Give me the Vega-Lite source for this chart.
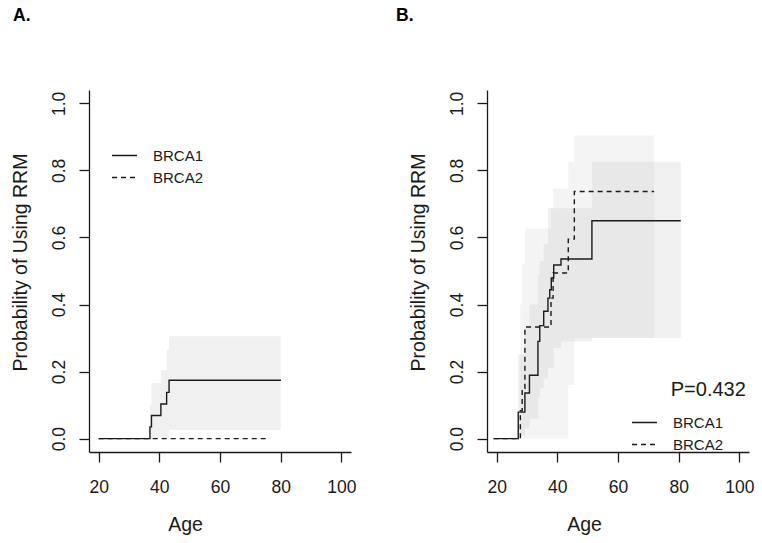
{
  "$schema": "https://vega.github.io/schema/vega-lite/v6.json",
  "autosize": {"type": "pad"},
  "padding": {"left": 10, "top": 7, "right": 5, "bottom": 5},
  "background": "white",
  "bounds": "flush",
  "spacing": 136,
  "resolve": {"scale": {"strokeDash": "independent"}, "legend": {"strokeDash": "independent"}},
  "config": {
    "font": "Liberation Sans",
    "view": {"stroke": null},
    "axis": {
      "grid": false,
      "domainColor": "#1a1a1a",
      "tickColor": "#1a1a1a",
      "labelColor": "#1a1a1a",
      "titleColor": "#1a1a1a",
      "domainWidth": 1.3,
      "tickWidth": 1.3,
      "tickSize": 10,
      "labelFont": "Liberation Sans",
      "titleFont": "Liberation Sans",
      "labelFontSize": 17.5,
      "titleFontSize": 19.5,
      "titleFontWeight": "normal",
      "labelFlush": false,
      "labelOverlap": false
    },
    "legend": {
      "labelFont": "Liberation Sans",
      "labelFontSize": 15,
      "labelColor": "#1a1a1a",
      "padding": 0
    }
  },
  "datasets": {
    "lines": [
      {"panel": "A", "series": "BRCA1", "age": 20, "prob": 0},
      {"panel": "A", "series": "BRCA1", "age": 36.9, "prob": 0.035},
      {"panel": "A", "series": "BRCA1", "age": 37.4, "prob": 0.069},
      {"panel": "A", "series": "BRCA1", "age": 40.5, "prob": 0.103},
      {"panel": "A", "series": "BRCA1", "age": 42.4, "prob": 0.138},
      {"panel": "A", "series": "BRCA1", "age": 43.2, "prob": 0.174},
      {"panel": "A", "series": "BRCA1", "age": 80.1, "prob": 0.174},
      {"panel": "A", "series": "BRCA2", "age": 20, "prob": 0},
      {"panel": "A", "series": "BRCA2", "age": 75.4, "prob": 0},
      {"panel": "B", "series": "BRCA1", "age": 19, "prob": 0},
      {"panel": "B", "series": "BRCA1", "age": 27.1, "prob": 0.079},
      {"panel": "B", "series": "BRCA1", "age": 29.3, "prob": 0.136},
      {"panel": "B", "series": "BRCA1", "age": 30.8, "prob": 0.189},
      {"panel": "B", "series": "BRCA1", "age": 33.6, "prob": 0.29},
      {"panel": "B", "series": "BRCA1", "age": 34.2, "prob": 0.337},
      {"panel": "B", "series": "BRCA1", "age": 35.5, "prob": 0.38},
      {"panel": "B", "series": "BRCA1", "age": 36.9, "prob": 0.419},
      {"panel": "B", "series": "BRCA1", "age": 37.5, "prob": 0.444},
      {"panel": "B", "series": "BRCA1", "age": 38.0, "prob": 0.479},
      {"panel": "B", "series": "BRCA1", "age": 38.8, "prob": 0.518},
      {"panel": "B", "series": "BRCA1", "age": 41.2, "prob": 0.536},
      {"panel": "B", "series": "BRCA1", "age": 51.4, "prob": 0.65},
      {"panel": "B", "series": "BRCA1", "age": 80.7, "prob": 0.65},
      {"panel": "B", "series": "BRCA2", "age": 19, "prob": 0},
      {"panel": "B", "series": "BRCA2", "age": 27.8, "prob": 0.083},
      {"panel": "B", "series": "BRCA2", "age": 28.4, "prob": 0.15},
      {"panel": "B", "series": "BRCA2", "age": 29.3, "prob": 0.333},
      {"panel": "B", "series": "BRCA2", "age": 37.9, "prob": 0.419},
      {"panel": "B", "series": "BRCA2", "age": 38.6, "prob": 0.494},
      {"panel": "B", "series": "BRCA2", "age": 43.6, "prob": 0.595},
      {"panel": "B", "series": "BRCA2", "age": 45.6, "prob": 0.737},
      {"panel": "B", "series": "BRCA2", "age": 71.9, "prob": 0.737}
    ],
    "bands": [
      {"panel": "A", "series": "BRCA1", "age": 36.9, "prob": 0, "prob2": 0.1},
      {"panel": "A", "series": "BRCA1", "age": 37.4, "prob": 0, "prob2": 0.166},
      {"panel": "A", "series": "BRCA1", "age": 40.5, "prob": 0, "prob2": 0.205},
      {"panel": "A", "series": "BRCA1", "age": 42.4, "prob": 0, "prob2": 0.265},
      {"panel": "A", "series": "BRCA1", "age": 43.2, "prob": 0.026, "prob2": 0.305},
      {"panel": "A", "series": "BRCA1", "age": 80.0, "prob": 0.026, "prob2": 0.305},
      {"panel": "B", "series": "BRCA1", "age": 27.1, "prob": 0.01, "prob2": 0.25},
      {"panel": "B", "series": "BRCA1", "age": 29.3, "prob": 0.03, "prob2": 0.33},
      {"panel": "B", "series": "BRCA1", "age": 30.8, "prob": 0.06, "prob2": 0.4},
      {"panel": "B", "series": "BRCA1", "age": 33.6, "prob": 0.12, "prob2": 0.49},
      {"panel": "B", "series": "BRCA1", "age": 34.2, "prob": 0.15, "prob2": 0.53},
      {"panel": "B", "series": "BRCA1", "age": 35.5, "prob": 0.18, "prob2": 0.58},
      {"panel": "B", "series": "BRCA1", "age": 36.9, "prob": 0.21, "prob2": 0.687},
      {"panel": "B", "series": "BRCA1", "age": 38.8, "prob": 0.27, "prob2": 0.687},
      {"panel": "B", "series": "BRCA1", "age": 41.2, "prob": 0.29, "prob2": 0.687},
      {"panel": "B", "series": "BRCA1", "age": 51.4, "prob": 0.3, "prob2": 0.826},
      {"panel": "B", "series": "BRCA1", "age": 80.7, "prob": 0.3, "prob2": 0.826},
      {"panel": "B", "series": "BRCA2", "age": 27.8, "prob": 0, "prob2": 0.4},
      {"panel": "B", "series": "BRCA2", "age": 28.4, "prob": 0, "prob2": 0.52},
      {"panel": "B", "series": "BRCA2", "age": 29.3, "prob": 0, "prob2": 0.627},
      {"panel": "B", "series": "BRCA2", "age": 37.9, "prob": 0, "prob2": 0.687},
      {"panel": "B", "series": "BRCA2", "age": 38.6, "prob": 0, "prob2": 0.746},
      {"panel": "B", "series": "BRCA2", "age": 43.6, "prob": 0.16, "prob2": 0.826},
      {"panel": "B", "series": "BRCA2", "age": 45.6, "prob": 0.3, "prob2": 0.904},
      {"panel": "B", "series": "BRCA2", "age": 71.9, "prob": 0.3, "prob2": 0.904}
    ],
    "notes": [
      {"panel": "B", "age": 77.4, "prob": 0.126, "label": "P=0.432"}
    ]
  },
  "hconcat": [
    {
      "width": 262,
      "height": 362,
      "title": {"text": "A.", "anchor": "start", "frame": "group", "dx": -76, "offset": 51.5, "baseline": "alphabetic", "fontSize": 17.5, "fontWeight": "bold", "color": "#000000", "font": "Liberation Sans"},
      "encoding": {
        "x": {"field": "age", "type": "quantitative", "scale": {"domain": [16.8, 103.2], "nice": false, "zero": false},
              "axis": {"title": "Age", "values": [20, 40, 60, 80, 100], "format": "d", "labelPadding": 30, "labelBaseline": "alphabetic", "titleX": 96, "titleY": 78, "titleBaseline": "alphabetic", "titleAlign": "center"}},
        "y": {"field": "prob", "type": "quantitative", "scale": {"domain": [-0.04, 1.04], "nice": false, "zero": false},
              "axis": {"title": "Probability of Using RRM", "values": [0, 0.2, 0.4, 0.6, 0.8, 1], "format": ".1f", "labelAngle": 270, "labelAlign": "center", "labelBaseline": "alphabetic", "labelPadding": 15, "titleX": -63, "titleY": 172, "titleAngle": 270, "titleBaseline": "alphabetic", "titleAlign": "center"}}
      },
      "layer": [
        {
          "data": {"name": "bands"},
          "transform": [{"filter": "datum.panel == 'A'"}],
          "mark": {"type": "area", "interpolate": "step-after", "fill": "#F0F0F0", "stroke": null},
          "encoding": {"y2": {"field": "prob2"}}
        },
        {
          "data": {"name": "lines"},
          "transform": [{"filter": "datum.panel == 'A'"}],
          "mark": {"type": "line", "interpolate": "step-after", "stroke": "#1a1a1a", "strokeWidth": 1.4},
          "encoding": {
            "strokeDash": {"field": "series", "type": "nominal",
              "scale": {"domain": ["BRCA1", "BRCA2"], "range": [[1, 0], [5, 4]]},
              "legend": {"orient": "none", "legendX": 22, "legendY": 52, "title": null, "symbolType": "stroke", "symbolSize": 625, "symbolStrokeWidth": 1.4, "symbolStrokeColor": "#1a1a1a", "labelOffset": 15, "rowPadding": -11}}
          }
        }
      ]
    },
    {
      "width": 262,
      "height": 362,
      "title": {"text": "B.", "anchor": "start", "frame": "group", "dx": -91, "offset": 51.5, "baseline": "alphabetic", "fontSize": 17.5, "fontWeight": "bold", "color": "#000000", "font": "Liberation Sans"},
      "encoding": {
        "x": {"field": "age", "type": "quantitative", "scale": {"domain": [16.8, 103.2], "nice": false, "zero": false},
              "axis": {"title": "Age", "values": [20, 40, 60, 80, 100], "format": "d", "labelPadding": 30, "labelBaseline": "alphabetic", "titleX": 97, "titleY": 78, "titleBaseline": "alphabetic", "titleAlign": "center"}},
        "y": {"field": "prob", "type": "quantitative", "scale": {"domain": [-0.04, 1.04], "nice": false, "zero": false},
              "axis": {"title": "Probability of Using RRM", "values": [0, 0.2, 0.4, 0.6, 0.8, 1], "format": ".1f", "labelAngle": 270, "labelAlign": "center", "labelBaseline": "alphabetic", "labelPadding": 15, "titleX": -63, "titleY": 172, "titleAngle": 270, "titleBaseline": "alphabetic", "titleAlign": "center"}}
      },
      "layer": [
        {
          "data": {"name": "bands"},
          "transform": [{"filter": "datum.panel == 'B' && datum.series == 'BRCA1'"}],
          "mark": {"type": "area", "interpolate": "step-after", "fill": "#F0F0F0", "stroke": null},
          "encoding": {"y2": {"field": "prob2"}}
        },
        {
          "data": {"name": "bands"},
          "transform": [{"filter": "datum.panel == 'B' && datum.series == 'BRCA2'"}],
          "mark": {"type": "area", "interpolate": "step-after", "fill": "#C8C8C8", "fillOpacity": 0.2, "stroke": null},
          "encoding": {"y2": {"field": "prob2"}}
        },
        {
          "data": {"name": "lines"},
          "transform": [{"filter": "datum.panel == 'B'"}],
          "mark": {"type": "line", "interpolate": "step-after", "stroke": "#1a1a1a", "strokeWidth": 1.4},
          "encoding": {
            "strokeDash": {"field": "series", "type": "nominal",
              "scale": {"domain": ["BRCA1", "BRCA2"], "range": [[1, 0], [5, 4]]},
              "legend": {"orient": "none", "legendX": 144, "legendY": 319, "title": null, "symbolType": "stroke", "symbolSize": 625, "symbolStrokeWidth": 1.4, "symbolStrokeColor": "#1a1a1a", "labelOffset": 15, "rowPadding": -11}}
          }
        },
        {
          "data": {"name": "notes"},
          "mark": {"type": "text", "align": "left", "baseline": "alphabetic", "fontSize": 20, "color": "#1a1a1a", "font": "Liberation Sans"},
          "encoding": {"text": {"field": "label"}}
        }
      ]
    }
  ]
}
